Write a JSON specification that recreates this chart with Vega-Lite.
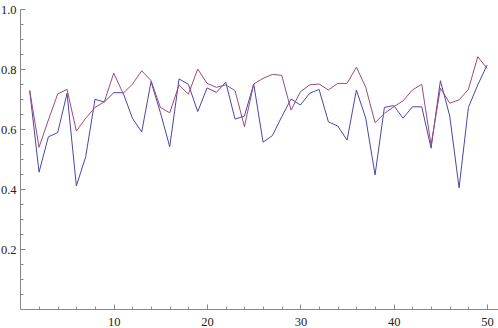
{
  "$schema": "https://vega.github.io/schema/vega-lite/v6.json",
  "width": 478,
  "height": 300,
  "autosize": "none",
  "padding": {"left": 20, "top": 9, "right": 0, "bottom": 19},
  "config": {"view": {"stroke": null}},
  "data": {"values": [
    {"x":1,"s":"a","v":0.728},{"x":2,"s":"a","v":0.456},{"x":3,"s":"a","v":0.574},{"x":4,"s":"a","v":0.588},{"x":5,"s":"a","v":0.719},
    {"x":6,"s":"a","v":0.41},{"x":7,"s":"a","v":0.508},{"x":8,"s":"a","v":0.699},{"x":9,"s":"a","v":0.69},{"x":10,"s":"a","v":0.721},
    {"x":11,"s":"a","v":0.721},{"x":12,"s":"a","v":0.636},{"x":13,"s":"a","v":0.59},{"x":14,"s":"a","v":0.758},{"x":15,"s":"a","v":0.655},
    {"x":16,"s":"a","v":0.541},{"x":17,"s":"a","v":0.767},{"x":18,"s":"a","v":0.749},{"x":19,"s":"a","v":0.658},{"x":20,"s":"a","v":0.737},
    {"x":21,"s":"a","v":0.722},{"x":22,"s":"a","v":0.756},{"x":23,"s":"a","v":0.633},{"x":24,"s":"a","v":0.643},{"x":25,"s":"a","v":0.75},
    {"x":26,"s":"a","v":0.556},{"x":27,"s":"a","v":0.578},{"x":28,"s":"a","v":0.641},{"x":29,"s":"a","v":0.70},{"x":30,"s":"a","v":0.68},
    {"x":31,"s":"a","v":0.719},{"x":32,"s":"a","v":0.732},{"x":33,"s":"a","v":0.624},{"x":34,"s":"a","v":0.61},{"x":35,"s":"a","v":0.563},
    {"x":36,"s":"a","v":0.73},{"x":37,"s":"a","v":0.636},{"x":38,"s":"a","v":0.447},{"x":39,"s":"a","v":0.672},{"x":40,"s":"a","v":0.678},
    {"x":41,"s":"a","v":0.636},{"x":42,"s":"a","v":0.674},{"x":43,"s":"a","v":0.674},{"x":44,"s":"a","v":0.536},{"x":45,"s":"a","v":0.761},
    {"x":46,"s":"a","v":0.643},{"x":47,"s":"a","v":0.404},{"x":48,"s":"a","v":0.672},{"x":49,"s":"a","v":0.747},{"x":50,"s":"a","v":0.813},
    {"x":1,"s":"b","v":0.728},{"x":2,"s":"b","v":0.539},{"x":3,"s":"b","v":0.63},{"x":4,"s":"b","v":0.717},{"x":5,"s":"b","v":0.732},
    {"x":6,"s":"b","v":0.593},{"x":7,"s":"b","v":0.636},{"x":8,"s":"b","v":0.672},{"x":9,"s":"b","v":0.691},{"x":10,"s":"b","v":0.786},
    {"x":11,"s":"b","v":0.719},{"x":12,"s":"b","v":0.749},{"x":13,"s":"b","v":0.794},{"x":14,"s":"b","v":0.761},{"x":15,"s":"b","v":0.672},
    {"x":16,"s":"b","v":0.654},{"x":17,"s":"b","v":0.747},{"x":18,"s":"b","v":0.716},{"x":19,"s":"b","v":0.80},{"x":20,"s":"b","v":0.752},
    {"x":21,"s":"b","v":0.739},{"x":22,"s":"b","v":0.747},{"x":23,"s":"b","v":0.728},{"x":24,"s":"b","v":0.608},{"x":25,"s":"b","v":0.75},
    {"x":26,"s":"b","v":0.769},{"x":27,"s":"b","v":0.782},{"x":28,"s":"b","v":0.779},{"x":29,"s":"b","v":0.663},{"x":30,"s":"b","v":0.724},
    {"x":31,"s":"b","v":0.747},{"x":32,"s":"b","v":0.75},{"x":33,"s":"b","v":0.73},{"x":34,"s":"b","v":0.752},{"x":35,"s":"b","v":0.752},
    {"x":36,"s":"b","v":0.806},{"x":37,"s":"b","v":0.739},{"x":38,"s":"b","v":0.621},{"x":39,"s":"b","v":0.652},{"x":40,"s":"b","v":0.674},
    {"x":41,"s":"b","v":0.694},{"x":42,"s":"b","v":0.73},{"x":43,"s":"b","v":0.749},{"x":44,"s":"b","v":0.547},{"x":45,"s":"b","v":0.736},
    {"x":46,"s":"b","v":0.686},{"x":47,"s":"b","v":0.697},{"x":48,"s":"b","v":0.732},{"x":49,"s":"b","v":0.841},{"x":50,"s":"b","v":0.802}
  ]},
  "mark": {"type": "line", "strokeWidth": 1},
  "encoding": {
    "x": {
      "field": "x", "type": "quantitative",
      "scale": {"domain": [-0.04, 51.17], "nice": false, "zero": false},
      "axis": {
        "title": null, "grid": false,
        "values": [2,4,6,8,10,12,14,16,18,20,22,24,26,28,30,32,34,36,38,40,42,44,46,48,50],
        "labelExpr": "datum.value % 10 === 0 ? datum.label : ''",
        "labelFont": "Liberation Serif", "labelFontSize": 12.5, "labelColor": "#222222",
        "labelPadding": 1, "tickSize": 5, "labelFlush": false, "labelOverlap": false,
        "domainColor": "#888888", "tickColor": "#888888",
        "encoding": {"ticks": {"y2": {"value": {"expr": "datum.value % 10 === 0 ? -5 : -3"}}}}
      }
    },
    "y": {
      "field": "v", "type": "quantitative",
      "scale": {"domain": [0, 1], "nice": false},
      "axis": {
        "title": null, "grid": false,
        "values": [0.05,0.1,0.15,0.2,0.25,0.3,0.35,0.4,0.45,0.5,0.55,0.6,0.65,0.7,0.75,0.8,0.85,0.9,0.95,1.0],
        "labelExpr": "abs(datum.value*5 - round(datum.value*5)) < 0.001 ? format(datum.value, '.1f') : ''",
        "labelFont": "Liberation Serif", "labelFontSize": 12.5, "labelColor": "#222222",
        "labelPadding": -1, "tickSize": 5, "labelFlush": false, "labelOverlap": false,
        "domainColor": "#888888", "tickColor": "#888888",
        "encoding": {"ticks": {"x2": {"value": {"expr": "abs(datum.value*5 - round(datum.value*5)) < 0.001 ? 5 : 3"}}}}
      }
    },
    "color": {
      "field": "s", "type": "nominal", "legend": null,
      "scale": {"domain": ["a", "b"], "range": ["#4848a6", "#a2487a"]}
    }
  }
}
